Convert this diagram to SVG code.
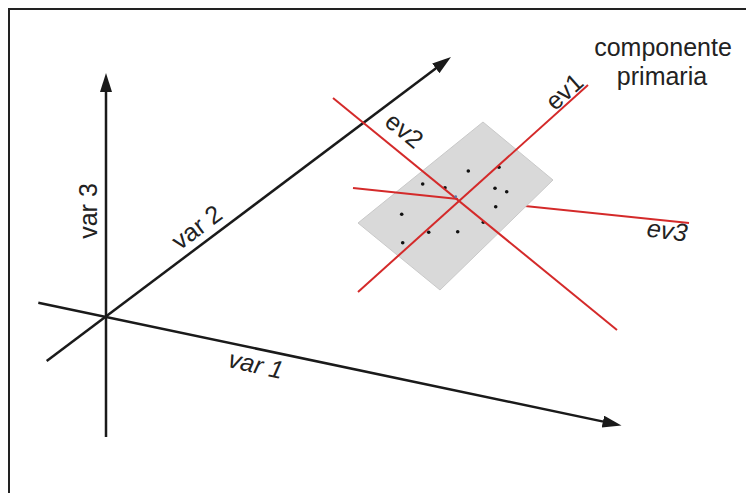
<svg xmlns="http://www.w3.org/2000/svg" width="746" height="493" viewBox="0 0 746 493">
  <style>
    .axis { stroke: #1a1a1a; stroke-width: 2.5; fill: none; }
    .ev { stroke: #d42a2a; stroke-width: 2; fill: none; }
    .lbl { font-family: "Liberation Sans", Arial, sans-serif; font-size: 25px; fill: #222; }
    .it { font-style: italic; }
    .dot { fill: #111; }
  </style>
  <defs>
    <marker id="arr" markerUnits="userSpaceOnUse" markerWidth="22" markerHeight="14" refX="9" refY="6" orient="auto">
      <path d="M0,0 L19,6 L0,12 z" fill="#1a1a1a"/>
    </marker>
  </defs>
  <rect width="746" height="493" fill="#fff"/>
  <path d="M9,493 V9 H746" fill="none" stroke="#222" stroke-width="2"/>

  <g id="axes">
    <line id="var3-axis" class="axis" x1="106" y1="437" x2="106" y2="83" marker-end="url(#arr)"/>
    <line id="var2-axis" class="axis" x1="46.7" y1="361" x2="443" y2="63" marker-end="url(#arr)"/>
    <line id="var1-axis" class="axis" x1="38.3" y1="302.7" x2="611.7" y2="423.4" marker-end="url(#arr)"/>
  </g>

  <g id="connectors">
    <line id="ev3-back" class="ev" x1="458" y1="199" x2="689" y2="223"/>
  </g>

  <g id="plane">
    <polygon points="483,122 553,180 440,290 358,223" fill="#d9d9d9" stroke="#c9c9c9" stroke-width="1"/>
    <g class="dots">
      <circle class="dot" cx="468.3" cy="171" r="1.8"/>
      <circle class="dot" cx="499" cy="167.3" r="1.8"/>
      <circle class="dot" cx="422.7" cy="184" r="1.8"/>
      <circle class="dot" cx="445" cy="187.7" r="1.8"/>
      <circle class="dot" cx="495" cy="188.3" r="1.8"/>
      <circle class="dot" cx="506.7" cy="191.7" r="1.8"/>
      <circle class="dot" cx="495.7" cy="206.7" r="1.8"/>
      <circle class="dot" cx="401.7" cy="214.3" r="1.8"/>
      <circle class="dot" cx="483.3" cy="222.3" r="1.8"/>
      <circle class="dot" cx="428.7" cy="232.3" r="1.8"/>
      <circle class="dot" cx="457.7" cy="231.7" r="1.8"/>
      <circle class="dot" cx="402.7" cy="242.7" r="1.8"/>
    </g>
  </g>

  <g id="eigenvectors">
    <line id="ev1" class="ev" x1="358" y1="292" x2="588" y2="85"/>
    <line id="ev2" class="ev" x1="333" y1="98" x2="617" y2="330"/>
    <line id="ev3-front" class="ev" x1="353" y1="188" x2="458" y2="199"/>
    <circle cx="455.7" cy="196.7" r="1.4" fill="#5a78a8"/>
  </g>

  <g id="labels">
    <text class="lbl" x="663" y="56" text-anchor="middle">componente</text>
    <text class="lbl" x="662" y="85" text-anchor="middle">primaria</text>
    <text class="lbl" text-anchor="middle" transform="translate(96.5,211) rotate(-90)">var 3</text>
    <text class="lbl" text-anchor="middle" transform="translate(202,234) rotate(-37)">var 2</text>
    <text class="lbl it" text-anchor="middle" transform="translate(254,373) rotate(13)">var 1</text>
    <text class="lbl" text-anchor="middle" transform="translate(570,98) rotate(-42)">ev1</text>
    <text class="lbl" text-anchor="middle" transform="translate(399,137) rotate(39)">ev2</text>
    <text class="lbl it" text-anchor="middle" transform="translate(666,239) rotate(8)">ev3</text>
  </g>
</svg>
